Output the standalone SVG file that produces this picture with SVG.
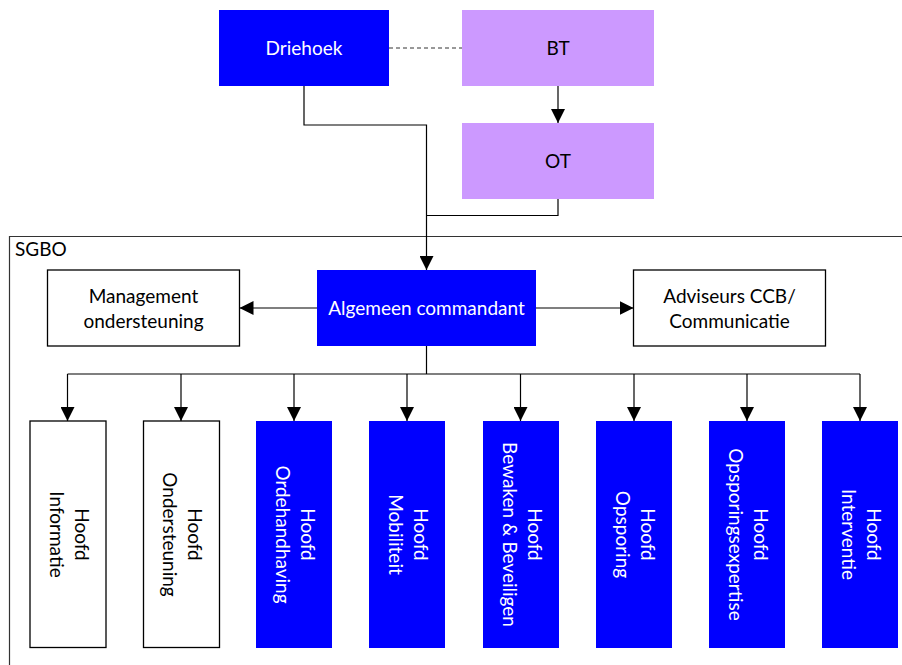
<svg xmlns="http://www.w3.org/2000/svg" width="902" height="665" viewBox="0 0 902 665">
<defs>
<style>
text{font-family:Lato,"Liberation Sans",sans-serif;font-size:19px;text-anchor:middle;}
.blue{fill:#0000FF;}
.purple{fill:#CC99FF;}
.white{fill:#FFFFFF;stroke:#000;stroke-width:1.3;}
.wt{fill:#FFFFFF;}
.bt{fill:#000000;}
.ln{fill:none;stroke:#000;stroke-width:1.2;}
</style>
<marker id="ah" markerUnits="userSpaceOnUse" markerWidth="14" markerHeight="14" refX="14" refY="7" orient="auto">
<path d="M0,0 L14,7 L0,14 Z" fill="#000"/>
</marker>
</defs>
<rect width="902" height="665" fill="#FFFFFF"/>
<g id="sgbo">
<path d="M9.5,670 L9.5,236.5 L910,236.5" fill="none" stroke="#333" stroke-width="1.2"/>
<text x="15" y="256" style="text-anchor:start" class="bt">SGBO</text>
</g>
<g id="connectors">
<line x1="389" y1="48" x2="462" y2="48" stroke="#333" stroke-width="1" stroke-dasharray="4,3"/>
<line class="ln" x1="558" y1="86" x2="558" y2="123" marker-end="url(#ah)"/>
<path class="ln" d="M304,86 L304,125 L426.5,125 L426.5,270" marker-end="url(#ah)"/>
<path class="ln" d="M558,199 L558,215.5 L426.5,215.5"/>
<line class="ln" x1="317" y1="308" x2="239.5" y2="308" marker-end="url(#ah)"/>
<line class="ln" x1="536" y1="308" x2="633.5" y2="308" marker-end="url(#ah)"/>
<path class="ln" d="M426.5,346 L426.5,374 M67.5,374 L860,374"/>
<line class="ln" x1="67.5" y1="374" x2="67.5" y2="421" marker-end="url(#ah)"/>
<line class="ln" x1="181" y1="374" x2="181" y2="421" marker-end="url(#ah)"/>
<line class="ln" x1="294" y1="374" x2="294" y2="421" marker-end="url(#ah)"/>
<line class="ln" x1="407" y1="374" x2="407" y2="421" marker-end="url(#ah)"/>
<line class="ln" x1="520.5" y1="374" x2="520.5" y2="421" marker-end="url(#ah)"/>
<line class="ln" x1="634" y1="374" x2="634" y2="421" marker-end="url(#ah)"/>
<line class="ln" x1="747" y1="374" x2="747" y2="421" marker-end="url(#ah)"/>
<line class="ln" x1="860" y1="374" x2="860" y2="421" marker-end="url(#ah)"/>
</g>
<g id="driehoek">
<rect class="blue" x="219" y="10" width="170" height="76"/>
<text class="wt" x="304" y="54.5">Driehoek</text>
</g>
<g id="bt">
<rect class="purple" x="462" y="10" width="192" height="76"/>
<text class="bt" x="558" y="54.5">BT</text>
</g>
<g id="ot">
<rect class="purple" x="462" y="123" width="192" height="76"/>
<text class="bt" x="558" y="167.5">OT</text>
</g>
<g id="algemeen">
<rect class="blue" x="317" y="270" width="219" height="76"/>
<text class="wt" x="426.5" y="314.5">Algemeen commandant</text>
</g>
<g id="management">
<rect class="white" x="47.5" y="270" width="192" height="76"/>
<text class="bt" x="143.5" y="303">Management<tspan x="143.5" dy="25">ondersteuning</tspan></text>
</g>
<g id="adviseurs">
<rect class="white" x="633.5" y="270" width="192" height="76"/>
<text class="bt" x="729.5" y="303">Adviseurs CCB/<tspan x="729.5" dy="25">Communicatie</tspan></text>
</g>
<g id="informatie">
<rect class="white" x="30" y="421" width="76" height="226.5"/>
<text class="bt" transform="rotate(90 68 534.5)" x="68" y="528">Hoofd<tspan x="68" dy="25">Informatie</tspan></text>
</g>
<g id="ondersteuning">
<rect class="white" x="143.5" y="421" width="76" height="226.5"/>
<text class="bt" transform="rotate(90 181.5 534.5)" x="181.5" y="528">Hoofd<tspan x="181.5" dy="25">Ondersteuning</tspan></text>
</g>
<g id="ordehandhaving">
<rect class="blue" x="256" y="421" width="76" height="227"/>
<text class="wt" transform="rotate(90 294 534.5)" x="294" y="528">Hoofd<tspan x="294" dy="25">Ordehandhaving</tspan></text>
</g>
<g id="mobiliteit">
<rect class="blue" x="369" y="421" width="76" height="227"/>
<text class="wt" transform="rotate(90 407 534.5)" x="407" y="528">Hoofd<tspan x="407" dy="25">Mobiliteit</tspan></text>
</g>
<g id="bewaken">
<rect class="blue" x="483" y="421" width="76" height="227"/>
<text class="wt" transform="rotate(90 521 534.5)" x="521" y="528">Hoofd<tspan x="521" dy="25">Bewaken &amp; Beveiligen</tspan></text>
</g>
<g id="opsporing">
<rect class="blue" x="596" y="421" width="76" height="227"/>
<text class="wt" transform="rotate(90 634 534.5)" x="634" y="528">Hoofd<tspan x="634" dy="25">Opsporing</tspan></text>
</g>
<g id="opsporingsexpertise">
<rect class="blue" x="709" y="421" width="76" height="227"/>
<text class="wt" transform="rotate(90 747 534.5)" x="747" y="528">Hoofd<tspan x="747" dy="25">Opsporingsexpertise</tspan></text>
</g>
<g id="interventie">
<rect class="blue" x="822" y="421" width="76" height="227"/>
<text class="wt" transform="rotate(90 860 534.5)" x="860" y="528">Hoofd<tspan x="860" dy="25">Interventie</tspan></text>
</g>
</svg>
